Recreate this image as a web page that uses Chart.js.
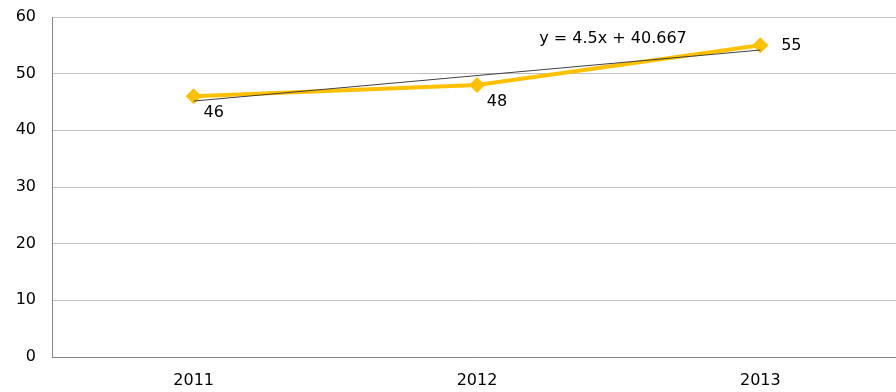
<!DOCTYPE html>
<html>
<head>
<meta charset="utf-8">
<script src="https://cdn.jsdelivr.net/npm/chart.js@4/dist/chart.umd.min.js"></script>
<style>
  html, body { margin: 0; padding: 0; background: #fff; overflow: hidden; }
</style>
</head>
<body>
<canvas id="chart" width="910" height="392"></canvas>
<script>
const years = ['2011', '2012', '2013'];
const values = [46, 48, 55];
const yTicks = [0, 10, 20, 30, 40, 50, 60];
const trendSlope = 4.5;
const trendIntercept = 40.667;
const trendLabel = 'y = 4.5x + 40.667';

const trend = years.map((y, i) => trendSlope * (i + 1) + trendIntercept);
const FONT = "'DejaVu Sans', sans-serif";

// value labels + trend equation
const labelPlugin = {
    id: 'labels',
    afterDatasetsDraw(chart) {
        const ctx = chart.ctx;
        const meta = chart.getDatasetMeta(1);
        ctx.save();
        ctx.fillStyle = '#000';
        ctx.font = '16px ' + FONT;
        ctx.textAlign = 'center';
        ctx.textBaseline = 'middle';
        meta.data.forEach((pt, i) => {
            const dx = i === 2 ? 31 : 20;
            const dy = i === 2 ? 1 : 17;
            ctx.fillText(String(values[i]), pt.x + dx, pt.y + dy);
        });
        const xs = chart.scales.x, ys = chart.scales.y;
        const ex = xs.getPixelForValue(1) + (xs.getPixelForValue(2) - xs.getPixelForValue(1)) * 0.48;
        ctx.fillText(trendLabel, ex, ys.getPixelForValue(56.2));
        ctx.restore();
    }
};

new Chart(document.getElementById('chart'), {
    type: 'line',
    data: {
        labels: years,
        datasets: [{
            label: 'Trend',
            data: trend,
            borderColor: '#404040',
            borderWidth: 1,
            pointRadius: 0,
            fill: false
        }, {
            label: 'Value',
            data: values,
            borderColor: '#FFC000',
            backgroundColor: '#FFC000',
            borderWidth: 4,
            pointStyle: 'rectRot',
            pointRadius: 8,
            pointBorderWidth: 0,
            fill: false
        }]
    },
    options: {
        responsive: false,
        animation: false,
        layout: { padding: { top: 17, right: 0, left: 0, bottom: 0 } },
        plugins: { legend: { display: false }, tooltip: { enabled: false } },
        scales: {
            x: {
                offset: true,
                grid: { display: false, drawTicks: false },
                border: { color: '#868686', width: 1 },
                ticks: { color: '#000', font: { family: FONT, size: 16 }, padding: 14 },
                afterFit(s) { s.height = 35; s.paddingLeft = 0; s.paddingRight = 0; }
            },
            y: {
                min: 0,
                max: 60,
                afterBuildTicks(s) { s.ticks = yTicks.map(v => ({ value: v })); },
                grid: { color: '#bfbfbf', drawTicks: false },
                border: { color: '#868686', width: 1 },
                ticks: { color: '#000', font: { family: FONT, size: 16 }, padding: 16 },
                afterFit(s) { s.width = 52; s.paddingTop = 0; s.paddingBottom = 0; }
            }
        }
    },
    plugins: [labelPlugin]
});
</script>
</body>
</html>
